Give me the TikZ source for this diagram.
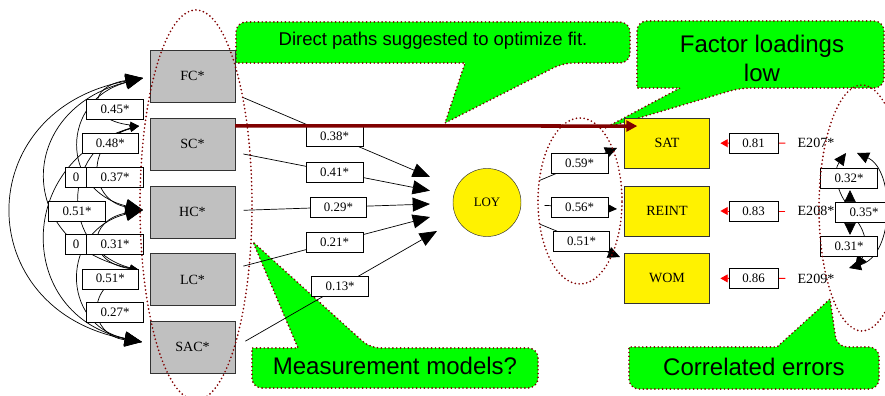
\documentclass[tikz,border=0pt]{standalone}
\usepackage{fontspec}
\setmainfont{Liberation Serif}
\newfontfamily\notefont{Liberation Sans}
\usetikzlibrary{arrows.meta,calc}
\definecolor{boxgray}{HTML}{C0C0C0}
\definecolor{darkred}{HTML}{800000}
\definecolor{notegreen}{HTML}{00FF00}
\tikzset{
  Big/.tip={Triangle[length=0.52cm,width=0.42cm]},
  Mid/.tip={Triangle[length=0.36cm,width=0.34cm]},
  Sml/.tip={Triangle[length=0.27cm,width=0.2cm]},
  obs/.style={draw=black!80, fill=boxgray, minimum width=2.55cm, minimum height=1.56cm, inner sep=0, font=\fontsize{12}{14}\selectfont},
  dv/.style={draw=black!80, fill=yellow, minimum width=2.55cm, minimum height=1.5cm, inner sep=0, font=\fontsize{12}{14}\selectfont},
  lat/.style={circle, draw=black!80, fill=yellow, minimum size=2.04cm, inner sep=0, font=\fontsize{11}{13}\selectfont},
  etxt/.style={inner sep=0, font=\fontsize{12}{14}\selectfont},
  est/.style={draw=black, fill=white, minimum width=1.7cm, minimum height=0.6cm, inner sep=0, font=\fontsize{11}{13}\selectfont},
  covarc/.style={line width=0.6pt},
  corrarc/.style={line width=0.6pt, Mid-Mid},
  regline/.style={line width=0.6pt, -Big, shorten <=0.25cm},
  loadline/.style={line width=0.6pt, -Mid, shorten <=0.7cm},
  errline/.style={draw=red, line width=0.8pt, -{Triangle[length=0.22cm,width=0.24cm]}, shorten <=0.36cm, shorten >=0.32cm},
  direct/.style={draw=darkred, line width=3pt, -{Triangle[length=0.33cm,width=0.33cm]}},
  ring/.style={draw=darkred, line width=1.6pt, line cap=round, dash pattern=on 0pt off 3.3pt},
  bubble/.style={fill=notegreen, draw=darkred, line width=1.6pt, line cap=round, dash pattern=on 0pt off 3.3pt},
  notetxt/.style={inner sep=0, align=center, font=\notefont\fontsize{20.5}{24.7}\selectfont}
}
\begin{document}
\begin{tikzpicture}[x=0.03cm, y=-0.03cm]
\useasboundingbox (0,0) rectangle (885,396);

% notes
\draw[bubble] (433,22) [rounded corners=0.3cm] -- (630,22) -- (630,63) -- (563,63) [sharp corners] -- (445,123) -- (465,63) -- (236,63) [rounded corners=0.3cm] -- (236,22) -- cycle;
\draw[bubble] (760,21) [rounded corners=0.3cm] -- (884,21) -- (884,88) -- (740,88) [sharp corners] -- (605,128) -- (680,88) -- (637,88) [rounded corners=0.3cm] -- (637,21) -- cycle;
\draw[bubble] (395,388) [rounded corners=0.3cm] -- (538,388) -- (538,348) -- (370,348) [sharp corners] -- (253,242) -- (298,348) -- (252,348) [rounded corners=0.3cm] -- (252,388) -- cycle;
\draw[bubble] (754,389) [rounded corners=0.3cm] -- (879,389) -- (879,347) -- (837,347) [sharp corners] -- (830,299) -- (777,347) -- (629,347) [rounded corners=0.3cm] -- (629,389) -- cycle;
\node[notetxt, font=\notefont\fontsize{15.8}{19}\selectfont] (tdirect) at (433,41) {Direct paths suggested to optimize fit.};
\node[notetxt] (tfactor) at (762,58) {Factor loadings\\low};
\node[notetxt] (tmeasure) at (395,366) {Measurement models?};
\node[notetxt] (tcorr) at (754,366.5) {Correlated errors};

% variables
\node[obs] (fc) at (192.5,76) {FC*};
\node[obs] (sc) at (192.5,144) {SC*};
\node[obs] (hc) at (192.5,212) {HC*};
\node[obs] (lc) at (192.5,279.5) {LC*};
\node[obs] (sac) at (192.5,347) {SAC*};
\node[lat] (loy) at (487,202.5) {LOY};
\node[dv] (sat) at (667,143.3) {SAT};
\node[dv] (reint) at (667,211) {REINT};
\node[dv] (wom) at (667,278.3) {WOM};
\node[etxt] (e207) at (816,143) {E207*};
\node[etxt] (e208) at (816,211) {E208*};
\node[etxt] (e209) at (816,278.5) {E209*};

% covariances between the exogenous variables
\coordinate (fcL) at (143,78);
\coordinate (scL) at (139,126);
\coordinate (hcL) at (143,210);
\coordinate (lcL) at (139,270);
\coordinate (sacL) at (142,342);
\draw[covarc, Big-Sml] (fcL) .. controls (88,86) and (86,120) .. (scL);
\draw[covarc, Sml-Big] (scL) .. controls (85,140) and (88,200) .. (hcL);
\draw[covarc, Big-Sml] (hcL) .. controls (88,220) and (85,262) .. (lcL);
\draw[covarc, Sml-Big] (lcL) .. controls (85,285) and (88,335) .. (sacL);
\draw[covarc, Big-Big] (fcL) .. controls (60,100) and (60,190) .. (hcL);
\draw[covarc, Sml-Sml] (scL) .. controls (60,150) and (60,250) .. (lcL);
\draw[covarc, Big-Big] (hcL) .. controls (60,230) and (60,325) .. (sacL);
\draw[covarc, Big-Sml] (fcL) .. controls (15,110) and (15,245) .. (lcL);
\draw[covarc, Sml-Big] (scL) .. controls (15,160) and (15,315) .. (sacL);
\draw[covarc, Big-Big] (fcL) .. controls (-30,110) and (-30,310) .. (sacL);
\node[est] (c45) at (115,109.5) {0.45*};
\node[est] (c48) at (110.3,143.3) {0.48*};
\node[est, minimum width=0.63cm] (c0a) at (76,177) {0};
\node[est] (c37) at (115,177) {0.37*};
\node[est] (c51a) at (77,211) {0.51*};
\node[est, minimum width=0.63cm] (c0b) at (76,244.7) {0};
\node[est] (c31) at (115,244.7) {0.31*};
\node[est] (c51b) at (110.3,278.8) {0.51*};
\node[est] (c27) at (115,312) {0.27*};

% paths to LOY
\coordinate (t1) at (430,177);
\coordinate (t2) at (430,190.7);
\coordinate (t3) at (430,204);
\coordinate (t4) at (430,217);
\coordinate (t5) at (437,231);
\draw[regline] (fc) -- node[est, pos=.51] (b38) {0.38*} (t1);
\draw[regline] (sc) -- node[est, pos=.51] (b41) {0.41*} (t2);
\draw[regline] (hc) -- node[est, pos=.53] (b29) {0.29*} (t3);
\draw[regline] (lc) -- node[est, pos=.51] (b21) {0.21*} (t4);
\draw[regline, shorten <=0.35cm] (sac.east) -- node[est, pos=.52] (b13) {0.13*} (t5);

% loadings
\coordinate (o1) at (617,148);
\coordinate (o2) at (617,209);
\coordinate (o3) at (620,257);
\draw[loadline] (loy) -- node[est, pos=.62] (b59) {0.59*} (o1);
\draw[loadline] (loy) -- node[est, pos=.61] (b56) {0.56*} (o2);
\draw[loadline] (loy) -- node[est, pos=.62] (b51) {0.51*} (o3);

% suggested direct path
\draw[direct] ($(sc.north east)+(0,8)$) -- ($(sat.north west)+(13,8)$);

% errors
\draw[errline] (e207) -- node[est, minimum width=1.47cm] (v81) {0.81} (sat);
\draw[errline] (e208) -- node[est, minimum width=1.47cm] (v83) {0.83} (reint);
\draw[errline] (e209) -- node[est, minimum width=1.47cm] (v86) {0.86} (wom);

% correlated errors
\coordinate (r1a) at (846,153);
\coordinate (r1b) at (850,190);
\coordinate (r2a) at (850,235);
\coordinate (r2b) at (855,268);
\coordinate (r3a) at (857,153);
\coordinate (r3b) at (849,268);
\draw[corrarc] (r1a) .. controls (828,178) and (850,215) .. (r1b);
\draw[corrarc] (r3a) .. controls (895,170) and (895,255) .. (r3b);
\draw[corrarc] (r2a) .. controls (850,205) and (875,240) .. (r2b);
\node[est] (v32) at (849,178) {0.32*};
\node[est] (v35) at (864,212) {0.35*};
\node[est] (v31) at (849,246) {0.31*};

% dotted rings
\draw[ring] (196,205) ellipse [x radius=1.68cm, y radius=5.85cm];
\draw[ring] (580,201) ellipse [x radius=1.26cm, y radius=2.49cm];
\draw[ring] (862,208) ellipse [x radius=1.29cm, y radius=3.69cm];
\end{tikzpicture}
\end{document}
